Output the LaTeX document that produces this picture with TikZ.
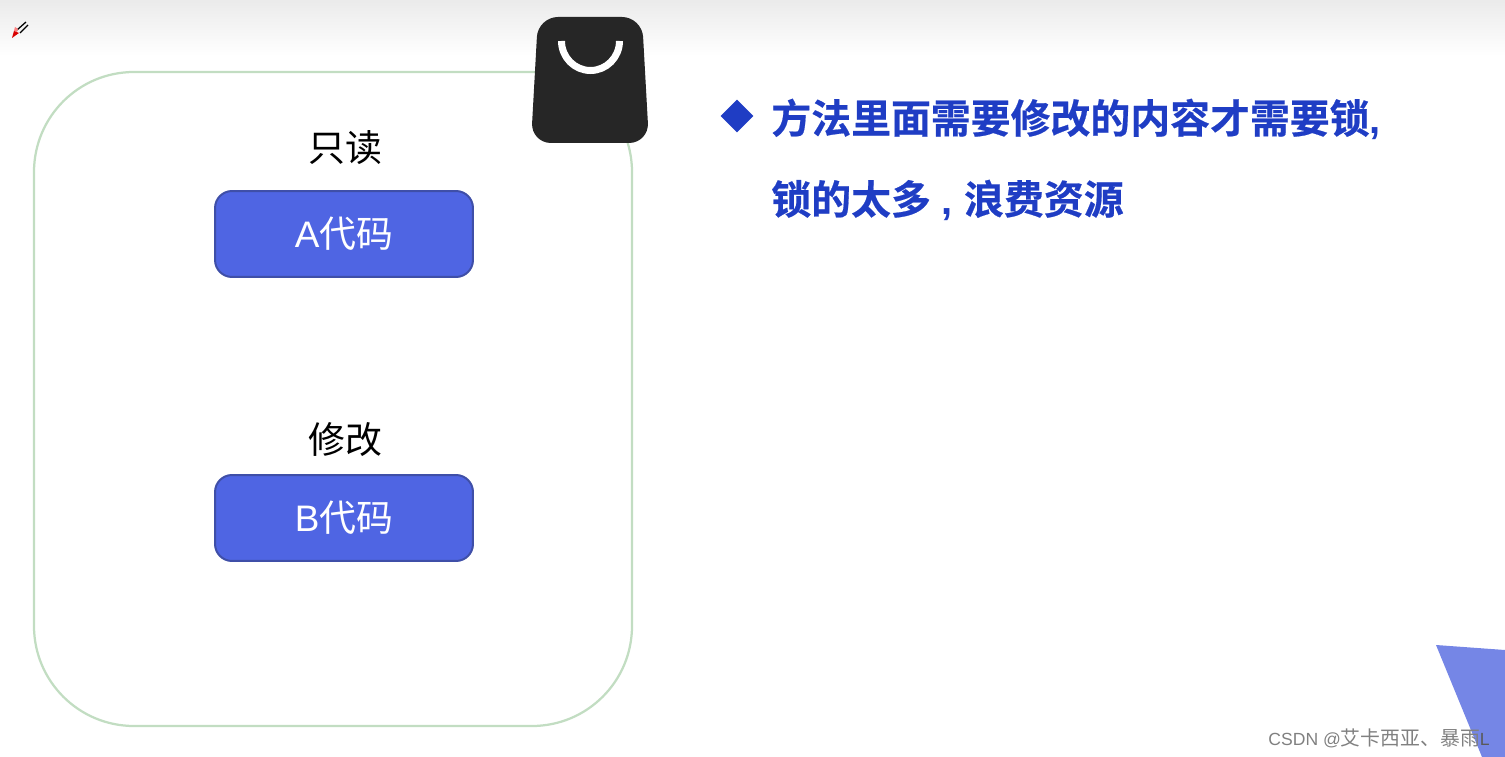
\documentclass[tikz,border=0pt]{standalone}
\usepackage{fontspec}
\setmainfont{Liberation Sans}
\newfontfamily\cjk{Noto Sans CJK SC}
\newfontfamily\cjkbold[FakeBold=0.5]{Noto Sans CJK SC Bold}
\usetikzlibrary{shapes.geometric}
\definecolor{codeblue}{HTML}{4F65E3}
\definecolor{codeedge}{HTML}{3F4FA8}
\definecolor{tipblue}{HTML}{1F3DC4}
\definecolor{boxgreen}{HTML}{C2DDC2}
\definecolor{bagdark}{HTML}{262626}
\definecolor{cornerblue}{HTML}{7586E6}
\tikzset{
	codebox/.style={draw=codeedge, fill=codeblue, line width=0.04cm, rounded corners=0.34cm, minimum width=5.16cm, minimum height=1.72cm, text=white, font=\fontsize{21}{25}\selectfont},
	tag/.style={font=\fontsize{21}{25}\selectfont\cjk, text=black},
	tip/.style={anchor=west, inner sep=0pt, text=tipblue, font=\fontsize{22.7}{27}\selectfont\cjkbold}
}
\begin{document}
\begin{tikzpicture}[x=0.02cm, y=-0.02cm]
			\useasboundingbox (0, 0) rectangle (1505, 757);
			
			% top shade
			\shade[top color=black!8, bottom color=white] (0, 0) rectangle (1505, 56);
			
			% pen mark
			\draw[line width=0.025cm, color=black] (17, 30) -- (26, 22);
			\draw[line width=0.025cm, color=black] (20, 33) -- (28, 25);
			\fill[color=red!50!white] (14, 31) -- (15, 27) -- (18, 29) -- (17, 32) -- cycle;
			\fill[color=red!85!black] (12, 38) -- (14, 31) -- (19, 33) -- cycle;
			
			% outer box
			\draw[draw=boxgreen, line width=0.045cm, rounded corners=2cm] (34, 72) rectangle (632, 726);
			
			% bag
			\fill[bagdark, rounded corners=0.4cm] (538, 17) -- (642, 17) -- (649, 143) -- (531, 143) -- cycle;
			\draw[white, line width=0.14cm] (561.5, 41) arc[start angle=180, end angle=360, x radius=29, y radius=-29.5];
			
			\node[tag] (readtag) at (345, 148) {只读};
			\node[codebox] (codea) at (344, 234) {A{\cjk 代码}};
			\node[tag] (edittag) at (345, 440) {修改};
			\node[codebox] (codeb) at (344, 518) {B{\cjk 代码}};
			
			% tip text
			\node[diamond, fill=tipblue, minimum width=0.66cm, minimum height=0.66cm, inner sep=0pt] (mark) at (737, 116) {};
			\node[tip] (tipone) at (771, 119) {方法里面需要修改的内容才需要锁{\rmfamily\bfseries ,}};
			\node[tip] (tiptwo) at (771, 200) {锁的太多{\rmfamily\bfseries\ ,\ }浪费资源};
			
			% corner
			\fill[cornerblue] (1436, 645) -- (1505, 650) -- (1505, 757) -- (1482, 757) -- cycle;
			\node[anchor=east, inner sep=0pt, text=black!50, font=\fontsize{10}{14}\selectfont] (credit) at (1490, 738) {CSDN @{\fontsize{11.3}{14}\selectfont\cjk 艾卡西亚、暴雨}\textcolor{black!65}{L}};
\end{tikzpicture}
\end{document}
